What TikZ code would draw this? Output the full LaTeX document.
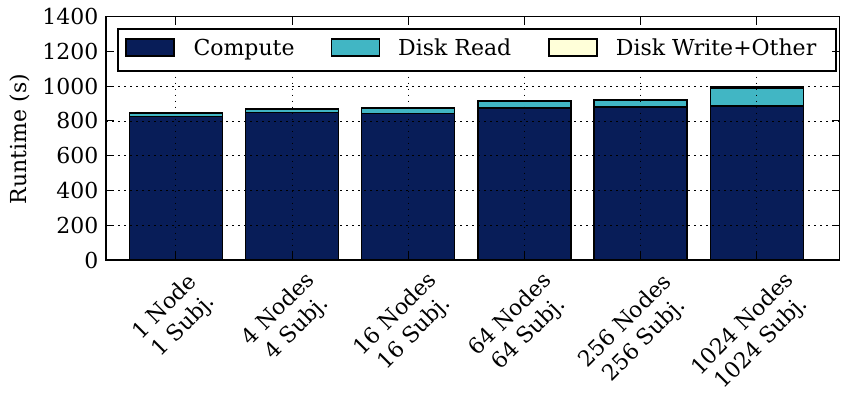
\documentclass[tikz,border=0pt]{standalone}
\usepackage{fontspec}
\setmainfont{DejaVu Serif}
\definecolor{compute}{RGB}{8,29,88}
\definecolor{diskread}{RGB}{65,182,196}
\definecolor{diskwrite}{RGB}{255,255,217}
\tikzset{
  barbox/.style={draw=black, line width=1.5pt},
  gridline/.style={black, line width=0.9pt, dash pattern=on 1.5pt off 4.5pt},
  frame/.style={draw=black, line width=1.6pt},
  tickmark/.style={black, line width=1pt},
  ticklabel/.style={inner sep=0pt},
  legswatch/.style={draw=black, line width=1.2pt},
}
\begin{document}
\begin{tikzpicture}[x=1pt,y=-1pt, font=\fontsize{22}{26.4}\selectfont]
\useasboundingbox (0,0) rectangle (841,393);
\def\L{106}\def\R{839.5}\def\T{16.7}\def\B{260}
% bars
\foreach \i/\c/\r/\o in {0/825/20/4, 1/850/19/4, 2/844/28/4, 3/875/38/4, 4/879/39/4, 5/886/104/4}{
  \pgfmathsetmacro\cx{175.8+116.2*\i}
  \pgfmathsetmacro\xa{\cx-46.5}
  \pgfmathsetmacro\xb{\cx+46.5}
  \pgfmathsetmacro\ya{260-\c*0.1738}
  \pgfmathsetmacro\yb{260-(\c+\r)*0.1738}
  \pgfmathsetmacro\yc{260-(\c+\r+\o)*0.1738}
  \filldraw[barbox, fill=compute] (\xa,260) rectangle (\xb,\ya);
  \filldraw[barbox, fill=diskread] (\xa,\ya) rectangle (\xb,\yb);
  \filldraw[barbox, fill=diskwrite] (\xa,\yb) rectangle (\xb,\yc);
}
% grid
\foreach \v in {200,400,...,1200}{
  \pgfmathsetmacro\yy{260-\v*0.1738}
  \draw[gridline] (\L,\yy) -- (\R,\yy);
}
\foreach \i in {0,...,5}{
  \pgfmathsetmacro\cx{175.8+116.2*\i}
  \draw[gridline] (\cx,\T) -- (\cx,\B);
}
% legend
\node[frame, fill=white, minimum width=717.7pt, minimum height=41.7pt, inner sep=0pt, anchor=north west] (legend) at (117.3,28.3) {};
\filldraw[legswatch, fill=compute] (126,39) rectangle (174,56);
\node[anchor=base west, inner sep=0pt] (lc) at (193.3,55.5) {Compute};
\filldraw[legswatch, fill=diskread] (331.7,39) rectangle (379.3,56);
\node[anchor=base west, inner sep=0pt] (lr) at (398,55.5) {Disk Read};
\filldraw[legswatch, fill=diskwrite] (549,39) rectangle (597,56);
\node[anchor=base west, inner sep=0pt] (lw) at (615.7,55.5) {Disk Write+Other};
% frame
\draw[frame] (\L,\T) rectangle (\R,\B);
% ticks
\foreach \v in {0,200,...,1400}{
  \pgfmathsetmacro\yy{260-\v*0.1738}
  \draw[tickmark] (\L,\yy) -- ++(8,0);
  \draw[tickmark] (\R,\yy) -- ++(-8,0);
  \node[ticklabel, anchor=east] (y\v) at (98.5,\yy) {\v};
}
\foreach \i in {0,...,5}{
  \pgfmathsetmacro\cx{175.8+116.2*\i}
  \draw[tickmark] (\cx,\B) -- ++(0,-8);
  \draw[tickmark] (\cx,\T) -- ++(0,8);
}
% axis label
\node[rotate=90] (ylab) at (20,139) {Runtime (s)};
% x tick labels
\foreach \n/\px/\py/\t in {0/174.7/316.7/{1 Node\\1 Subj.}, 1/288/319/{4 Nodes\\4 Subj.}, 2/405.5/324/{16 Nodes\\16 Subj.}, 3/520/324.5/{64 Nodes\\64 Subj.}, 4/635.3/331/{256 Nodes\\256 Subj.}, 5/752.5/334/{1024 Nodes\\1024 Subj.}}{
  \node[rotate=45, align=center, inner sep=0pt] (x\n) at (\px,\py) {\t};
}
\end{tikzpicture}
\end{document}
